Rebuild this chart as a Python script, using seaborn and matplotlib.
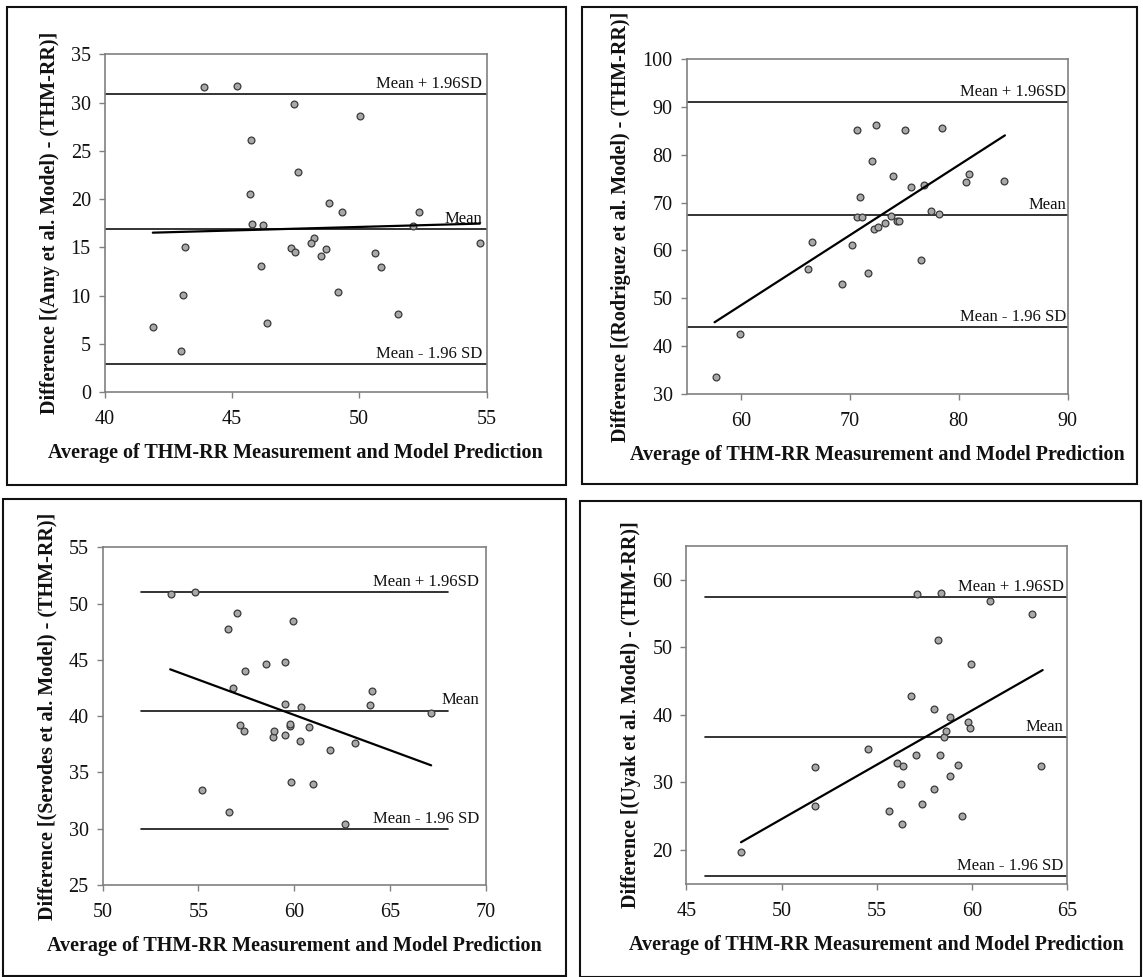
import numpy as np
import pandas as pd
import seaborn as sns
import matplotlib.pyplot as plt
from matplotlib.patches import Rectangle

# ---- data ----
amy_x = [43.91, 45.2, 47.43, 50.03, 45.74, 47.6, 45.69, 48.8, 49.34, 52.33,
         45.79, 46.23, 52.1, 48.23, 48.1, 43.16, 47.33, 47.46, 48.71, 48.49,
         50.6, 54.73, 46.16, 50.86, 43.06, 49.17, 51.51, 46.36, 41.9, 43.01]
amy_y = [31.58, 31.72, 29.89, 28.62, 26.16, 22.78, 20.54, 19.6, 18.67, 18.64,
         17.43, 17.29, 17.22, 16.02, 15.5, 15.08, 14.95, 14.57, 14.84, 14.12,
         14.46, 15.43, 13.08, 12.98, 10.04, 10.36, 8.08, 7.15, 6.8, 4.31]

rod_x = [57.68, 59.87, 66.18, 66.55, 69.3, 70.2, 70.65, 70.98, 70.65, 71.08,
         71.66, 72.06, 72.43, 72.19, 72.63, 73.27, 73.77, 73.94, 74.34, 74.48,
         75.08, 75.62, 76.53, 76.83, 77.47, 78.21, 78.44, 80.69, 80.93, 84.19]
rod_y = [33.49, 42.62, 56.22, 61.8, 52.94, 61.17, 85.09, 71.07, 67.03, 66.96,
         55.24, 78.74, 86.2, 64.52, 64.87, 65.77, 67.17, 75.47, 66.05, 66.05,
         85.23, 73.24, 58.03, 73.65, 68.14, 67.66, 85.51, 74.28, 75.89, 74.42]

ser_x = [53.56, 54.85, 55.21, 56.52, 56.6, 57.03, 56.82, 57.17, 57.37, 57.43,
         58.53, 58.91, 58.97, 59.5, 59.54, 59.54, 59.77, 59.77, 59.91, 59.84,
         60.31, 60.37, 60.77, 60.96, 61.85, 62.64, 63.16, 63.97, 64.07, 67.12]
ser_y = [50.88, 51.03, 33.41, 47.71, 31.51, 49.13, 42.47, 39.24, 38.68, 44.01,
         44.66, 38.12, 38.68, 44.81, 41.08, 38.33, 39.15, 39.33, 48.42, 34.15,
         37.82, 40.78, 39.0, 33.94, 36.99, 30.39, 37.64, 40.96, 42.2, 40.25]

uyak_x = [47.87, 51.78, 51.74, 54.53, 55.64, 56.06, 56.4, 56.29, 56.31, 56.82,
          57.05, 57.11, 57.36, 58.01, 58.03, 58.22, 58.31, 58.37, 58.56, 58.64,
          58.85, 58.87, 59.29, 59.46, 59.8, 59.9, 59.96, 60.97, 63.17, 63.66]
uyak_y = [19.65, 32.33, 26.44, 34.9, 25.74, 32.87, 32.43, 29.75, 23.91, 42.77,
          34.11, 57.92, 26.78, 29.01, 40.89, 51.09, 34.11, 58.07, 36.68, 37.57,
          39.65, 30.99, 32.62, 24.95, 38.91, 38.02, 47.48, 56.93, 54.9, 32.38]

# limits of agreement and mean (upper, mean, lower)
amy_lines = [30.9, 16.91, 2.93]
rod_lines = [91.0, 67.45, 43.95]
ser_lines = [51.0, 40.5, 30.0]
uyak_lines = [57.43, 36.73, 16.14]

# trend line end points
amy_fit_x, amy_fit_y = [41.89, 54.74], [16.53, 17.47]
rod_fit_x, rod_fit_y = [57.58, 84.25], [44.99, 84.04]
ser_fit_x, ser_fit_y = [53.53, 67.14], [44.16, 35.63]
uyak_fit_x, uyak_fit_y = [47.87, 63.72], [21.14, 46.63]

x_label = "Average of THM-RR Measurement and Model Prediction"
line_names = ["Mean + 1.96SD", "Mean", "Mean - 1.96 SD"]

W, H = 1143, 977

def px_rect(l, r, t, b):
    # pixel box -> figure fraction [left, bottom, width, height]
    return [l / W, 1 - b / H, (r - l) / W, (b - t) / H]

panels = [
    dict(x=amy_x, y=amy_y, lines=amy_lines, fx=amy_fit_x, fy=amy_fit_y,
         ylab="Difference [(Amy et al. Model) - (THM-RR)]",
         xlim=(40, 55), xticks=np.arange(40, 56, 5), ylim=(0, 35), yticks=np.arange(0, 36, 5),
         span=(40, 55), lab_x=0.988,
         ax_rect=px_rect(104.7, 486.5, 54.3, 392.3),
         frame=px_rect(7, 566, 7, 485)),
    dict(x=rod_x, y=rod_y, lines=rod_lines, fx=rod_fit_x, fy=rod_fit_y,
         ylab="Difference [(Rodriguez et al. Model) - (THM-RR)]",
         xlim=(55, 90), xticks=np.arange(60, 91, 10), ylim=(30, 100), yticks=np.arange(30, 101, 10),
         span=(55, 90), lab_x=0.996,
         ax_rect=px_rect(686.5, 1067.5, 59, 394),
         frame=px_rect(582, 1137, 7, 484)),
    dict(x=ser_x, y=ser_y, lines=ser_lines, fx=ser_fit_x, fy=ser_fit_y,
         ylab="Difference [(Serodes et al. Model) - (THM-RR)]",
         xlim=(50, 70), xticks=np.arange(50, 71, 5), ylim=(25, 55), yticks=np.arange(25, 56, 5),
         span=(52, 68), lab_x=0.982,
         ax_rect=px_rect(102.5, 486, 547.3, 885),
         frame=px_rect(3, 566, 499, 976)),
    dict(x=uyak_x, y=uyak_y, lines=uyak_lines, fx=uyak_fit_x, fy=uyak_fit_y,
         ylab="Difference [(Uyak et al. Model) - (THM-RR)]",
         xlim=(45, 65), xticks=np.arange(45, 66, 5), ylim=(15, 65), yticks=np.arange(20, 61, 10),
         span=(46, 65), lab_x=0.991,
         ax_rect=px_rect(686.4, 1067, 546, 883.7),
         frame=px_rect(580, 1141, 501, 976.5)),
]

sns.set_style("white")
plt.rcParams['font.family'] = ['Liberation Serif', 'DejaVu Serif']

fig = plt.figure(figsize=(W / 100, H / 100), dpi=100)

for p in panels:
    # outer frame around each panel
    fig.add_artist(Rectangle((p['frame'][0], p['frame'][1]), p['frame'][2], p['frame'][3],
                             transform=fig.transFigure, fill=False, edgecolor='#111111', linewidth=1.5))
    ax = fig.add_axes(p['ax_rect'])

    df = pd.DataFrame({'avg': p['x'], 'diff': p['y']})
    sns.scatterplot(data=df, x='avg', y='diff', ax=ax, s=24, color='#a8a8a8',
                    edgecolor='#3a3a3a', linewidth=0.9, zorder=3)

    for lvl, name in zip(p['lines'], line_names):
        ax.plot(p['span'], [lvl, lvl], color='#111111', linewidth=1.2, zorder=2)
        ax.annotate(name, xy=(p['lab_x'], lvl), xycoords=('axes fraction', 'data'),
                    xytext=(0, 1.5), textcoords='offset points', ha='right', va='bottom',
                    fontsize=12, color='#111111')

    fit_df = pd.DataFrame({'avg': p['fx'], 'diff': p['fy']})
    sns.lineplot(data=fit_df, x='avg', y='diff', ax=ax, color='black', linewidth=1.6, zorder=4)

    ax.set_xlim(p['xlim'])
    ax.set_ylim(p['ylim'])
    ax.set_xticks(p['xticks'])
    ax.set_yticks(p['yticks'])
    ax.tick_params(axis='both', labelsize=14.5, direction='out', length=4, width=1,
                   color='#808080', left=True, bottom=True, labelcolor='#111111')
    ax.tick_params(axis='x', pad=9)
    ax.tick_params(axis='y', pad=6)
    for s in ax.spines.values():
        s.set_color('#808080')
        s.set_linewidth(1.2)
    ax.set_xlabel(x_label, fontsize=14.5, fontweight='bold', labelpad=10, color='#111111')
    ax.set_ylabel(p['ylab'], fontsize=14.5, fontweight='bold', labelpad=8, color='#111111')

fig.savefig("out.png", dpi=100)
